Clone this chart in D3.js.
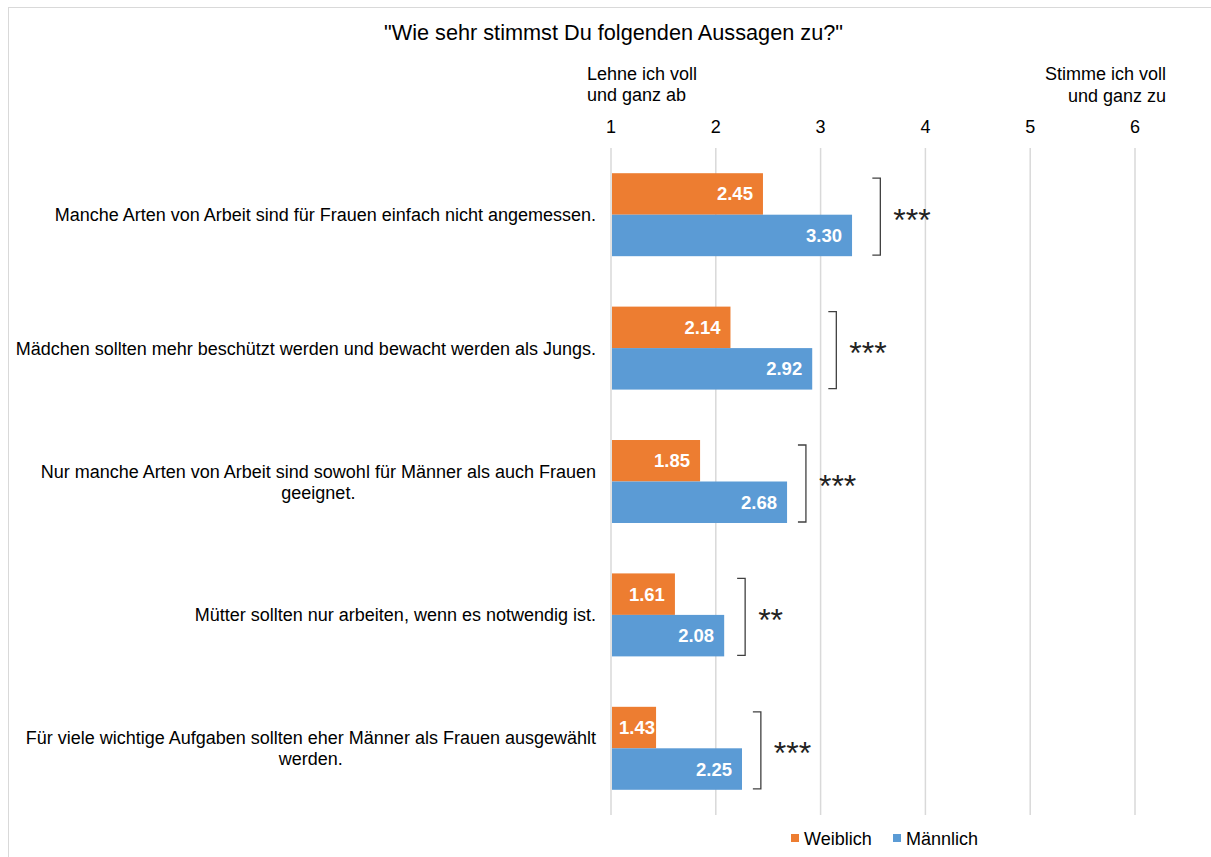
<!DOCTYPE html>
<html>
<head>
<meta charset="utf-8">
<script src="https://cdn.jsdelivr.net/npm/d3@7"></script>
<style>
  body { margin: 0; background: #fff; }
  svg { display: block; font-family: "Liberation Sans", Arial, sans-serif; }
</style>
</head>
<body>
<script>
// statements, top to bottom
let statements = [
  "Manche Arten von Arbeit sind für Frauen einfach nicht angemessen.",
  "Mädchen sollten mehr beschützt werden und bewacht werden als Jungs.",
  "Nur manche Arten von Arbeit sind sowohl für Männer als auch Frauen|geeignet.",
  "Mütter sollten nur arbeiten, wenn es notwendig ist.",
  "Für viele wichtige Aufgaben sollten eher Männer als Frauen ausgewählt|werden."
]
let weiblich = [2.45, 2.14, 1.85, 1.61, 1.43]
let maennlich = [3.30, 2.92, 2.68, 2.08, 2.25]
let signif = ["***", "***", "***", "**", "***"]
// where the bracket is drawn, in scale units
let bracketAt = [3.57, 3.15, 2.86, 2.28, 2.43]
let ticks = [1, 2, 3, 4, 5, 6]
let seriesNames = ["Weiblich", "Männlich"]
let colors = ["#ED7D31", "#5B9BD5"]

let width = 1211, height = 857
let margin = {top: 148, right: 76, bottom: 42, left: 611}

const svg = d3.select("body").append("svg")
    .attr("width", width)
    .attr("height", height)

// chart border (only top/left visible in the frame)
svg.append("rect")
    .attr("x", 8.5).attr("y", 7.5)
    .attr("width", 1220).attr("height", 870)
    .attr("fill", "none")
    .attr("stroke", "#d9d9d9")

let x = d3.scaleLinear()
    .domain([1, 6])
    .range([margin.left, 1135])

let y = d3.scaleBand()
    .domain(d3.range(statements.length))
    .range([margin.top, height - margin.bottom])
    .paddingInner(0.378)
    .paddingOuter(0.189)

let ySub = d3.scaleBand()
    .domain([0, 1])
    .range([0, y.bandwidth()])

// gridlines
svg.append("g")
  .selectAll("line")
  .data(ticks)
  .join("line")
    .attr("x1", d => x(d)).attr("x2", d => x(d))
    .attr("y1", margin.top).attr("y2", height - margin.bottom)
    .attr("stroke", "#d9d9d9")
    .attr("stroke-width", 1.5)

// tick labels on top
svg.append("g")
  .selectAll("text")
  .data(ticks)
  .join("text")
    .attr("x", d => x(d))
    .attr("y", 133)
    .attr("text-anchor", "middle")
    .style("font-size", "18px")
    .attr("fill", "#000")
    .text(d => d)

svg.append("text")
    .attr("x", width / 2 + 8).attr("y", 40)
    .attr("text-anchor", "middle")
    .style("font-size", "21.7px")
    .text('"Wie sehr stimmst Du folgenden Aussagen zu?"')

let lo = svg.append("text").style("font-size", "18px")
lo.append("tspan").attr("x", 587).attr("y", 80).text("Lehne ich voll")
lo.append("tspan").attr("x", 587).attr("y", 101).text("und ganz ab")
let hi = svg.append("text").style("font-size", "18px").attr("text-anchor", "end")
hi.append("tspan").attr("x", 1166).attr("y", 80).text("Stimme ich voll")
hi.append("tspan").attr("x", 1166).attr("y", 102).text("und ganz zu")

// bars
let rows = statements.map((s, i) => ({i, vals: [weiblich[i], maennlich[i]]}))

let grp = svg.append("g")
  .selectAll("g")
  .data(rows)
  .join("g")
    .attr("transform", d => `translate(0,${y(d.i)})`)

grp.selectAll("rect")
  .data(d => d.vals.map((v, k) => ({v, k})))
  .join("rect")
    .attr("x", x(1) + 1)
    .attr("y", d => ySub(d.k))
    .attr("width", d => x(d.v) - x(1) - 1)
    .attr("height", ySub.bandwidth())
    .attr("fill", d => colors[d.k])

grp.selectAll("text.val")
  .data(d => d.vals.map((v, k) => ({v, k})))
  .join("text")
    .attr("class", "val")
    .attr("y", d => ySub(d.k) + ySub.bandwidth() / 2 + 6.5)
    .attr("text-anchor", "end")
    .attr("fill", "#fff")
    .style("font-size", "18.5px")
    .style("font-weight", "bold")
    .text(d => d.v.toFixed(2))
    .attr("x", function(d) {
      let w = this.getComputedTextLength()
      return Math.max(x(d.v) - 10, x(1) + 8 + w)
    })

// significance brackets
grp.append("path")
    .attr("d", d => {
      let bx = x(bracketAt[d.i])
      let t = 5, b = y.bandwidth() - 1
      return `M${bx - 8},${t}H${bx}V${b}H${bx - 8}`
    })
    .attr("fill", "none")
    .attr("stroke", "#404040")
    .attr("stroke-width", 1.3)

grp.append("text")
    .attr("x", d => x(bracketAt[d.i]) + 13)
    .attr("y", y.bandwidth() / 2 + 16)
    .style("font-size", "32px")
    .attr("fill", "#222")
    .text(d => signif[d.i])

// category labels, centred lines, right-aligned block
let labels = svg.append("g")
  .selectAll("text")
  .data(rows)
  .join("text")
    .style("font-size", "18px")
    .attr("fill", "#000")
    .attr("text-anchor", "middle")

labels.each(function(d) {
  let lines = statements[d.i].split("|")
  let t = d3.select(this)
  let cy = y(d.i) + y.bandwidth() / 2
  let lh = 21
  let y0 = cy - (lines.length - 1) * lh / 2 + 6.5
  let spans = lines.map((l, j) => t.append("tspan").attr("y", y0 + j * lh).text(l))
  let w = d3.max(spans, s => s.node().getComputedTextLength())
  let cx = 596 - w / 2
  spans.forEach(s => s.attr("x", cx))
})

// legend
let leg = svg.append("g")
  .selectAll("g")
  .data(seriesNames)
  .join("g")
    .attr("transform", (d, i) => `translate(${[791, 893][i]},838)`)

leg.append("rect")
    .attr("x", 0).attr("y", -4)
    .attr("width", 8).attr("height", 8)
    .attr("fill", (d, i) => colors[i])

leg.append("text")
    .attr("x", 13).attr("y", 6.5)
    .style("font-size", "18px")
    .text(d => d)
</script>
</body>
</html>
